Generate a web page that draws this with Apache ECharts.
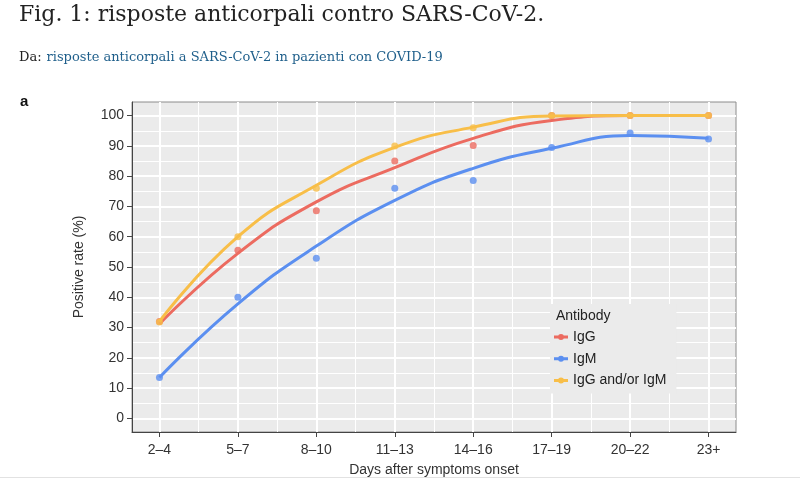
<!DOCTYPE html>
<html>
<head>
<meta charset="utf-8">
<script src="https://cdn.jsdelivr.net/npm/echarts@6/dist/echarts.min.js"></script>
<style>
  html, body { margin: 0; background: #fff; }
  #chart { width: 800px; height: 480px; }
</style>
</head>
<body>
<div id="chart"></div>
<script>
// categorie (giorni dall'esordio dei sintomi)
const categories = ['2–4', '5–7', '8–10', '11–13', '14–16', '17–19', '20–22', '23+'];
const xMajor = [1, 2, 3, 4, 5, 6, 7, 8];
const xMinor = [1.5, 2.5, 3.5, 4.5, 5.5, 6.5, 7.5];
const yMajor = [0, 10, 20, 30, 40, 50, 60, 70, 80, 90, 100];
const yMinor = [5, 15, 25, 35, 45, 55, 65, 75, 85, 95];

// punti osservati (%)
const igGPoints = [32, 55.5, 68.6, 85, 90.1, 100, 100, 100];
const igMPoints = [13.5, 40, 52.9, 76, 78.6, 89.5, 94.3, 92.3];
const anyPoints = [31.8, 60, 76, 90, 96, 100, 100, 100];

// curve di regressione (%)
const igGFit = [31.2, 54.5, 71.5, 82.8, 92.5, 98.4, 100, 100];
const igMFit = [13.5, 37.8, 56.9, 72, 82.6, 89.2, 93.4, 92.5];
const anyFit = [32, 60, 77, 89.5, 96.2, 99.9, 100, 100];

const names = ['IgG', 'IgM', 'IgG and/or IgM'];
const colors = ['#ec6b60', '#5b8ff0', '#f8be48'];

const chart = echarts.init(document.getElementById('chart'));

const pair = (ys) => ys.map((v, i) => [xMajor[i], v]);

const axisFont = { fontFamily: 'Liberation Sans', fontSize: 14, color: '#333' };
// icona legenda: segmento con punto
const keyIcon = 'path://M0,2 L14,2 L14,5 L0,5 Z M7,0.5 A3,3 0 1 1 7,6.5 A3,3 0 1 1 7,0.5 Z';

const series = [];
[igGFit, igMFit, anyFit].forEach((fit, i) => {
  series.push({
    name: names[i],
    type: 'line',
    smooth: true,
    symbol: 'circle',
    symbolSize: 6,
    showSymbol: false,
    data: pair(fit),
    lineStyle: { width: 3, color: colors[i] },
    itemStyle: { color: colors[i] },
    z: 3 + i
  });
});
[igGPoints, igMPoints, anyPoints].forEach((pts, i) => {
  series.push({
    name: names[i],
    type: 'scatter',
    symbolSize: 7,
    data: pair(pts),
    itemStyle: { color: colors[i] },
    z: 3 + i
  });
});

const option = {
  animation: false,
  title: [
    {
      text: 'Fig. 1: risposte anticorpali contro SARS-CoV-2.',
      left: 19, top: 4, padding: 0,
      textStyle: { fontFamily: 'DejaVu Serif', fontSize: 22, fontWeight: 'normal', color: '#222' }
    },
    {
      text: '{a|Da:} {b|risposte anticorpali a SARS-CoV-2 in pazienti con COVID-19}',
      left: 19, top: 49, padding: 0,
      textStyle: {
        rich: {
          a: { fontFamily: 'DejaVu Serif', fontSize: 13, fontWeight: 'normal', color: '#222' },
          b: { fontFamily: 'DejaVu Serif', fontSize: 13, fontWeight: 'normal', color: '#1f5f8b' }
        }
      }
    },
    {
      text: 'a',
      left: 20, top: 94, padding: 0,
      textStyle: { fontFamily: 'Liberation Sans', fontSize: 15, fontWeight: 'bold', color: '#111' }
    },
    {
      text: 'Antibody',
      left: 556, top: 309, padding: 0,
      textStyle: { fontFamily: 'Liberation Sans', fontSize: 14, fontWeight: 'normal', color: '#222' }
    }
  ],
  legend: {
    orient: 'vertical',
    left: 550, top: 304,
    padding: [26, 10, 6, 4],
    backgroundColor: '#ebebeb',
    itemWidth: 14, itemHeight: 14, itemGap: 7.7,
    icon: keyIcon,
    data: names,
    textStyle: { fontFamily: 'Liberation Sans', fontSize: 14, color: '#222' }
  },
  grid: {
    left: 132, right: 64, top: 102, bottom: 48,
    outerBoundsMode: 'none',
    containLabel: false,
    show: true,
    backgroundColor: '#ebebeb',
    borderColor: '#8c8c8c',
    borderWidth: 1
  },
  xAxis: [
    {
      type: 'value', min: 0.65, max: 8.35,
      name: 'Days after symptoms onset',
      nameLocation: 'middle', nameGap: 31,
      nameTextStyle: axisFont,
      axisLine: { show: true, onZero: false, lineStyle: { color: '#444' } },
      axisTick: { show: true, length: 5, customValues: xMajor, lineStyle: { color: '#444' } },
      axisLabel: { customValues: xMajor, margin: 11, ...axisFont,
        formatter: (v) => categories[Math.round(v) - 1] },
      splitLine: { show: true, lineStyle: { color: '#fff', width: 2 } }
    },
    {
      type: 'value', min: 0.65, max: 8.35,
      axisLine: { show: false },
      axisTick: { show: false, customValues: xMinor },
      axisLabel: { show: false },
      splitLine: { show: true, lineStyle: { color: '#fff', width: 1 } }
    }
  ],
  yAxis: [
    {
      type: 'value', min: -4.5, max: 104.5,
      name: 'Positive rate (%)',
      nameLocation: 'middle', nameGap: 46,
      nameTextStyle: axisFont,
      axisLine: { show: true, onZero: false, lineStyle: { color: '#444' } },
      axisTick: { show: true, length: 5, customValues: yMajor, lineStyle: { color: '#444' } },
      axisLabel: { customValues: yMajor, margin: 8, ...axisFont },
      splitLine: { show: true, lineStyle: { color: '#fff', width: 2 } }
    },
    {
      type: 'value', min: -4.5, max: 104.5,
      axisLine: { show: false },
      axisTick: { show: false, customValues: yMinor },
      axisLabel: { show: false },
      splitLine: { show: true, lineStyle: { color: '#fff', width: 1 } }
    }
  ],
  graphic: [
    { type: 'rect', shape: { x: 0, y: 477, width: 800, height: 1 }, style: { fill: '#e2e2e2' }, silent: true }
  ],
  series: series
};

chart.setOption(option);
</script>
</body>
</html>
